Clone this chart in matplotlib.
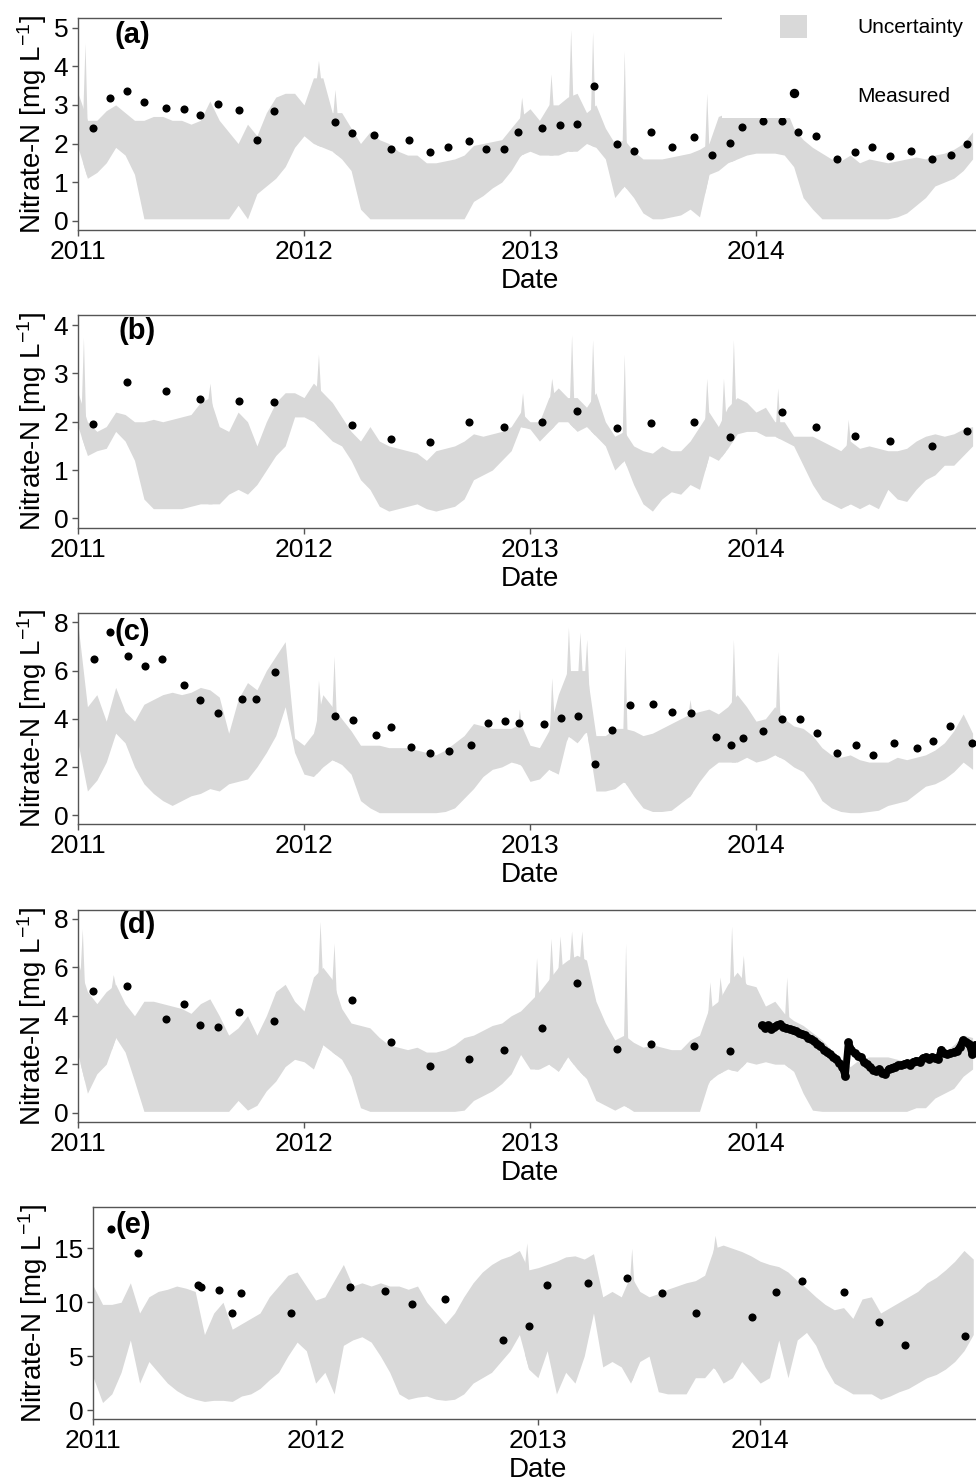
import numpy as np
import matplotlib
matplotlib.use('Agg')
import matplotlib.pyplot as plt
from matplotlib.patches import Patch, Rectangle
from matplotlib.lines import Line2D

plt.rcParams['font.family'] = ['Liberation Sans', 'DejaVu Sans']
plt.rcParams['mathtext.default'] = 'regular'

BAND = '#d9d9d9'
AXC = '#555555'
FS_TICK = 19
FS_LAB = 20

# ═══════════════════════════════════════
#  Data (decimal years)
# ═══════════════════════════════════════
# uncertainty band: semi-monthly envelope
band_t = 2011 + np.arange(96) / 24.0

# ---- (a)
lo_a = [1.9, 1.1, 1.25, 1.5, 1.9, 1.7, 1.2, 0.05, 0.05, 0.05,
        0.05, 0.05, 0.05, 0.05, 0.05, 0.05, 0.05, 0.4, 0.05, 0.7,
        0.9, 1.1, 1.4, 1.9, 2.2, 2.0, 1.9, 1.8, 1.6, 1.3,
        0.3, 0.05, 0.05, 0.05, 0.05, 0.05, 0.05, 0.05, 0.05, 0.05,
        0.05, 0.05, 0.5, 0.65, 0.85, 1.0, 1.3, 1.7, 1.8, 1.7,
        1.7, 1.7, 1.8, 1.8, 2.0, 1.9, 1.6, 0.6, 0.9, 0.6,
        0.2, 0.05, 0.05, 0.1, 0.15, 0.3, 0.1, 1.2, 1.3, 1.5,
        1.6, 1.7, 1.75, 1.75, 1.75, 1.7, 1.4, 0.6, 0.3, 0.05,
        0.05, 0.05, 0.05, 0.05, 0.05, 0.05, 0.05, 0.1, 0.2, 0.4,
        0.6, 0.9, 1.0, 1.1, 1.3, 1.6]
hi_a = [3.3, 2.6, 2.6, 2.85, 3.0, 2.8, 2.6, 2.6, 2.7, 2.7,
        2.6, 2.6, 2.5, 2.6, 3.1, 2.6, 2.3, 2.0, 2.5, 2.2,
        2.8, 3.2, 3.3, 3.3, 3.0, 3.7, 3.7, 2.8, 2.8, 2.4,
        2.0, 2.3, 2.1, 2.0, 1.8, 1.7, 1.7, 1.5, 1.5, 1.55,
        1.6, 1.7, 1.95, 2.0, 2.05, 2.1, 2.4, 2.7, 2.9, 2.6,
        3.0, 3.0, 3.2, 3.3, 2.8, 3.0, 2.4, 2.0, 2.1, 1.8,
        1.6, 1.6, 1.6, 1.65, 1.7, 1.75, 1.85, 2.0, 2.7, 2.8,
        2.9, 3.0, 3.0, 3.0, 3.1, 3.0, 2.4, 2.1, 1.9, 1.75,
        1.6, 1.55, 1.7, 1.5, 1.6, 1.55, 1.5, 1.55, 1.6, 1.65,
        1.6, 1.7, 1.75, 1.85, 2.0, 2.3]
spk_a_t = [2011.031, 2012.064, 2012.137, 2012.963, 2013.093, 2013.180,
           2013.277, 2013.417, 2013.782, 2013.898]
spk_a_v = [4.6, 4.15, 3.4, 3.2, 3.8, 4.95, 4.9, 4.4, 3.3, 4.3]
meas_a_t = [2011.065, 2011.142, 2011.217, 2011.292, 2011.388, 2011.470,
            2011.541, 2011.621, 2011.712, 2011.793, 2011.867, 2012.137,
            2012.212, 2012.311, 2012.387, 2012.466, 2012.559, 2012.636,
            2012.730, 2012.807, 2012.885, 2012.946, 2013.055, 2013.131,
            2013.209, 2013.285, 2013.384, 2013.459, 2013.537, 2013.630,
            2013.727, 2013.807, 2013.885, 2013.940, 2014.033, 2014.114,
            2014.187, 2014.264, 2014.358, 2014.438, 2014.512,
            2014.594, 2014.684, 2014.779, 2014.862, 2014.934]
meas_a_v = [2.39, 3.19, 3.35, 3.08, 2.93, 2.90, 2.75, 3.01, 2.86, 2.09,
            2.84, 2.56, 2.26, 2.23, 1.85, 2.08, 1.78, 1.90, 2.06, 1.87,
            1.85, 2.30, 2.41, 2.48, 2.50, 3.48, 2.00, 1.80, 2.29, 1.92,
            2.17, 1.70, 2.02, 2.43, 2.59, 2.59, 2.29, 2.19, 1.59,
            1.79, 1.90, 1.68, 1.80, 1.59, 1.69, 1.99]

# ---- (b)
lo_b = [1.9, 1.3, 1.4, 1.45, 1.8, 1.6, 1.2, 0.4, 0.2, 0.2,
        0.2, 0.2, 0.25, 0.3, 0.3, 0.3, 0.5, 0.6, 0.5, 0.7,
        1.0, 1.3, 1.5, 2.1, 2.1, 2.0, 1.8, 1.6, 1.5, 1.2,
        0.8, 0.6, 0.25, 0.15, 0.2, 0.25, 0.3, 0.2, 0.15, 0.2,
        0.25, 0.4, 0.8, 0.9, 1.0, 1.2, 1.4, 1.9, 1.85, 1.6,
        1.8, 2.0, 2.0, 1.8, 1.9, 1.7, 1.5, 1.0, 1.2, 0.7,
        0.3, 0.15, 0.4, 0.55, 0.5, 0.7, 0.6, 1.3, 1.2, 1.45,
        1.75, 1.8, 1.8, 1.7, 1.7, 1.6, 1.5, 1.1, 0.7, 0.4,
        0.3, 0.2, 0.3, 0.2, 0.3, 0.2, 0.6, 0.4, 0.35, 0.6,
        0.8, 0.9, 1.1, 1.1, 1.3, 1.5]
hi_b = [2.6, 2.0, 1.8, 1.9, 2.2, 2.15, 2.0, 2.0, 2.05, 2.0,
        2.05, 2.1, 2.15, 2.4, 2.5, 1.9, 1.8, 2.2, 2.0, 1.5,
        2.0, 2.4, 2.6, 2.6, 2.5, 2.8, 2.6, 2.4, 2.1, 1.8,
        1.6, 1.9, 1.6, 1.5, 1.45, 1.4, 1.35, 1.2, 1.4, 1.45,
        1.5, 1.6, 1.75, 1.7, 1.75, 1.8, 1.9, 2.2, 2.0, 2.0,
        2.5, 2.7, 2.5, 2.5, 2.3, 2.6, 2.0, 1.7, 1.8, 1.5,
        1.4, 1.35, 1.5, 1.4, 1.4, 1.6, 1.9, 2.2, 1.9, 2.3,
        2.5, 2.4, 2.2, 2.3, 2.0, 2.0, 1.7, 1.7, 1.7, 1.6,
        1.5, 1.4, 1.6, 1.45, 1.5, 1.45, 1.4, 1.4, 1.45, 1.6,
        1.7, 1.75, 1.7, 1.75, 1.85, 1.9]
spk_b_t = [2011.024, 2011.584, 2012.064, 2012.967, 2013.096, 2013.184,
           2013.277, 2013.417, 2013.782, 2013.856, 2013.900, 2014.096,
           2014.408]
spk_b_v = [3.75, 2.8, 3.4, 2.6, 2.9, 3.8, 3.7, 3.4, 2.9, 2.9, 3.7, 2.7, 2.05]
meas_b_t = [2011.065, 2011.217, 2011.388, 2011.541, 2011.712, 2011.867,
            2012.212, 2012.387, 2012.559, 2012.730, 2012.885, 2013.055,
            2013.209, 2013.384, 2013.537, 2013.727, 2013.885, 2014.114,
            2014.264, 2014.438, 2014.594, 2014.779, 2014.934]
meas_b_v = [1.96, 2.83, 2.63, 2.48, 2.42, 2.40, 1.93, 1.65, 1.59, 1.99,
            1.89, 1.99, 2.23, 1.88, 1.97, 1.99, 1.68, 2.21, 1.90, 1.70,
            1.60, 1.50, 1.80]

# ---- (c)
lo_c = [3.0, 1.0, 1.45, 2.2, 3.4, 3.0, 2.0, 1.3, 0.9, 0.6,
        0.4, 0.6, 0.8, 0.9, 1.1, 1.0, 1.3, 1.4, 1.5, 2.0,
        2.6, 3.3, 4.5, 2.6, 1.7, 1.6, 2.0, 2.3, 2.1, 1.7,
        0.6, 0.3, 0.1, 0.1, 0.1, 0.1, 0.1, 0.1, 0.1, 0.15,
        0.3, 0.7, 1.1, 1.6, 1.9, 2.0, 2.2, 2.1, 1.4, 1.5,
        1.9, 1.7, 3.3, 3.0, 3.5, 1.0, 1.0, 1.1, 1.4, 0.8,
        0.3, 0.15, 0.15, 0.2, 0.5, 0.8, 1.4, 1.9, 2.2, 2.2,
        2.2, 2.4, 2.2, 2.3, 2.5, 2.3, 2.0, 1.8, 1.3, 0.6,
        0.3, 0.15, 0.1, 0.1, 0.15, 0.2, 0.4, 0.5, 0.6, 0.9,
        1.2, 1.3, 1.5, 1.8, 2.2, 1.9]
hi_c = [7.9, 4.5, 5.0, 3.9, 5.3, 4.3, 3.9, 4.6, 4.8, 5.0,
        5.1, 5.0, 5.1, 5.3, 5.2, 4.9, 3.4, 4.8, 5.5, 5.2,
        6.0, 6.6, 7.2, 3.2, 2.9, 3.4, 5.0, 4.5, 4.0, 3.5,
        2.9, 2.9, 2.9, 2.8, 2.8, 2.8, 2.7, 2.6, 2.5, 2.7,
        3.0, 3.3, 3.8, 3.7, 3.6, 3.6, 3.6, 3.8, 2.9, 2.8,
        3.5, 5.0, 6.0, 6.0, 6.0, 3.3, 3.3, 3.6, 3.6, 3.5,
        3.3, 3.4, 3.6, 3.8, 4.0, 4.2, 4.3, 4.4, 4.2, 4.5,
        5.0, 4.5, 3.9, 4.0, 4.5, 4.0, 3.7, 3.6, 3.3, 2.8,
        2.5, 2.4, 2.5, 2.3, 2.2, 2.2, 2.2, 2.4, 2.3, 2.4,
        2.5, 2.7, 3.0, 3.5, 4.2, 3.4]
spk_c_t = [2012.064, 2012.133, 2012.953, 2013.096, 2013.170, 2013.221,
           2013.251, 2013.420, 2013.708, 2013.900, 2014.096]
spk_c_v = [5.6, 6.6, 4.4, 5.7, 7.8, 7.6, 7.3, 7.0, 4.8, 7.3, 6.8]
meas_c_t = [2011.069, 2011.142, 2011.221, 2011.295, 2011.373, 2011.469,
            2011.541, 2011.621, 2011.724, 2011.789, 2011.872, 2012.137,
            2012.215, 2012.317, 2012.387, 2012.472, 2012.559, 2012.643,
            2012.739, 2012.816, 2012.891, 2012.950, 2013.062, 2013.137,
            2013.214, 2013.289, 2013.363, 2013.444, 2013.543, 2013.630,
            2013.714, 2013.825, 2013.889, 2013.944, 2014.033, 2014.115,
            2014.195, 2014.268, 2014.360, 2014.441, 2014.516, 2014.611,
            2014.711, 2014.785, 2014.860, 2014.954]
meas_c_v = [6.46, 7.60, 6.60, 6.17, 6.46, 5.40, 4.78, 4.24, 4.84, 4.80,
            5.92, 4.11, 3.94, 3.32, 3.65, 2.84, 2.59, 2.66, 2.93, 3.82,
            3.90, 3.82, 3.78, 4.04, 4.12, 2.12, 3.53, 4.57, 4.61, 4.30,
            4.22, 3.24, 2.89, 3.21, 3.49, 3.99, 3.99, 3.39, 2.59, 2.89,
            2.49, 2.99, 2.80, 3.07, 3.70, 3.00]

# ---- (d)
lo_d = [2.4, 0.8, 1.6, 2.0, 3.1, 2.5, 1.3, 0.05, 0.05, 0.05,
        0.05, 0.05, 0.05, 0.05, 0.05, 0.05, 0.05, 0.5, 0.1, 0.3,
        0.9, 1.3, 1.9, 2.2, 2.1, 1.8, 2.8, 2.5, 2.2, 1.5,
        0.2, 0.05, 0.05, 0.05, 0.05, 0.05, 0.05, 0.05, 0.05, 0.05,
        0.05, 0.1, 0.5, 0.7, 0.9, 1.2, 1.6, 2.4, 1.8, 1.8,
        2.0, 1.7, 2.3, 1.8, 1.4, 0.5, 0.3, 0.1, 0.3, 0.05,
        0.05, 0.05, 0.05, 0.05, 0.05, 0.05, 0.05, 1.3, 1.6, 1.8,
        1.7, 2.1, 2.0, 2.1, 2.0, 2.0, 1.7, 0.8, 0.1, 0.05,
        0.05, 0.05, 0.05, 0.05, 0.05, 0.05, 0.05, 0.05, 0.05, 0.2,
        0.2, 0.6, 0.8, 1.0, 1.5, 1.8]
hi_d = [6.2, 5.0, 4.5, 5.0, 5.3, 4.5, 4.0, 4.6, 4.6, 4.5,
        4.4, 4.3, 4.1, 4.5, 4.7, 4.0, 3.2, 3.5, 4.0, 3.2,
        4.0, 5.0, 5.3, 4.6, 4.2, 5.6, 6.0, 5.5, 4.3, 3.7,
        3.6, 3.5, 3.1, 2.8, 2.7, 2.6, 2.7, 2.5, 2.5, 2.6,
        2.8, 3.1, 3.2, 3.4, 3.6, 3.7, 4.0, 4.2, 4.6, 5.0,
        5.5, 6.0, 6.3, 6.5, 6.3, 4.6, 3.7, 3.0, 3.2, 2.9,
        2.7, 2.8, 2.7, 2.6, 2.6, 3.0, 3.2, 4.3, 4.6, 5.3,
        5.8, 5.3, 5.2, 4.4, 4.6, 4.1, 3.8, 3.6, 3.3, 3.0,
        2.6, 2.2, 1.9, 2.2, 2.3, 2.3, 2.3, 2.2, 2.1, 2.1,
        2.2, 2.3, 2.5, 2.8, 3.2, 3.1]
spk_d_t = [2011.019, 2011.156, 2012.071, 2012.133, 2013.029, 2013.093,
           2013.133, 2013.184, 2013.229, 2013.423, 2013.796, 2013.841,
           2013.892, 2013.944, 2014.136]
spk_d_v = [7.6, 5.7, 7.9, 7.0, 6.4, 7.2, 7.3, 7.5, 7.5, 7.0, 5.4, 5.6,
           7.7, 6.5, 5.6]
meas_d_t = [2011.065, 2011.217, 2011.388, 2011.470, 2011.541, 2011.621,
            2011.712, 2011.867, 2012.212, 2012.387, 2012.559, 2012.730,
            2012.885, 2013.055, 2013.209, 2013.384, 2013.537, 2013.727,
            2013.885]
meas_d_v = [5.03, 5.21, 3.88, 4.47, 3.61, 3.53, 4.17, 3.77, 4.65, 2.90,
            1.94, 2.23, 2.59, 3.49, 5.35, 2.62, 2.83, 2.77, 2.55]
# high-frequency sensor record in 2014 (every 5 days)
sens_d_t = 2014.025 + np.arange(70) * 5 / 365.0
sens_d_v = [3.6, 3.5, 3.6, 3.45, 3.55, 3.6, 3.65, 3.55, 3.5, 3.45,
            3.4, 3.35, 3.3, 3.25, 3.2, 3.1, 3.05, 2.95, 2.85, 2.75,
            2.6, 2.5, 2.4, 2.3, 2.2, 2.05, 1.9, 1.5, 2.9, 2.6,
            2.45, 2.35, 2.3, 2.1, 2.0, 1.9, 1.75, 1.7, 1.8, 1.65,
            1.6, 1.8, 1.85, 1.9, 1.95, 1.95, 2.0, 2.05, 1.95, 2.1,
            2.15, 2.1, 2.25, 2.3, 2.2, 2.3, 2.25, 2.2, 2.6, 2.45,
            2.4, 2.45, 2.5, 2.55, 2.7, 3.0, 2.9, 2.85, 2.4, 2.8]

# ---- (e)
lo_e = [3.0, 0.7, 1.5, 3.5, 6.5, 2.5, 4.5, 3.5, 2.5, 1.8,
        1.3, 1.0, 0.8, 0.9, 0.9, 0.8, 1.3, 1.5, 2.0, 2.8,
        3.5, 5.0, 6.3, 5.5, 2.5, 3.5, 1.5, 6.0, 6.5, 6.8,
        6.3, 5.0, 3.5, 1.5, 1.0, 1.2, 1.3, 1.0, 0.9, 1.0,
        1.5, 2.5, 3.0, 3.5, 4.5, 5.5, 7.0, 3.8, 3.0, 5.5,
        1.5, 3.5, 2.5, 5.0, 9.0, 4.0, 4.5, 4.0, 2.5, 4.5,
        5.0, 1.7, 1.5, 1.5, 1.5, 3.0, 3.0, 4.0, 2.5, 3.0,
        4.5, 3.5, 2.5, 3.0, 6.5, 3.0, 6.5, 7.2, 6.0, 4.0,
        2.5, 2.0, 1.5, 1.5, 1.5, 1.0, 1.3, 1.7, 2.0, 2.5,
        3.0, 3.3, 3.8, 4.5, 5.5, 7.0]
hi_e = [11.5, 9.8, 9.8, 10.0, 11.8, 9.0, 10.5, 11.0, 11.2, 11.5,
        11.3, 11.0, 7.0, 9.0, 10.0, 7.5, 8.0, 8.5, 9.0, 10.5,
        11.5, 12.5, 12.8, 11.5, 10.2, 10.5, 12.0, 13.5, 11.5, 11.8,
        11.5, 11.8, 11.5, 11.5, 11.2, 11.5, 10.0, 9.0, 8.0, 9.0,
        10.5, 11.8, 12.8, 13.5, 14.0, 14.3, 14.8, 13.0, 13.2, 13.5,
        13.8, 14.2, 14.3, 14.0, 14.5, 10.5, 11.0, 10.5, 12.5, 11.0,
        10.5, 10.8, 11.2, 11.5, 11.8, 12.0, 12.5, 15.0, 15.3, 15.0,
        14.7, 14.3, 13.8, 13.5, 13.3, 12.8, 12.0, 11.3, 10.5, 9.8,
        9.3, 9.5, 8.5, 10.3, 10.5, 9.0, 9.5, 10.0, 10.5, 11.0,
        11.8, 12.3, 13.0, 13.8, 14.8, 14.0]
spk_e_t = [2012.950, 2013.422, 2013.797]
spk_e_v = [15.5, 15.0, 16.2]
meas_e_t = [2011.081, 2011.200, 2011.471, 2011.486, 2011.564, 2011.623,
            2011.663, 2011.889, 2012.155, 2012.314, 2012.432, 2012.582,
            2012.844, 2012.961, 2013.041, 2013.225, 2013.399, 2013.557,
            2013.711, 2013.962, 2014.070, 2014.189, 2014.377, 2014.534,
            2014.653, 2014.920]
meas_e_v = [16.80, 14.57, 11.63, 11.38, 11.17, 9.03, 10.89, 9.03, 11.38,
            11.07, 9.87, 10.27, 6.46, 7.79, 11.57, 11.75, 12.25, 10.89,
            9.00, 8.60, 10.95, 11.97, 10.98, 8.17, 6.00, 6.90]

years = [2011, 2012, 2013, 2014]

# ═══════════════════════════════════════
#  Layout (figure pixels: left, top, right, bottom)
# ═══════════════════════════════════════
W, H = 976, 1484
fig = plt.figure(figsize=(W / 100, H / 100), dpi=100)


def add_ax(l, t, r, b):
    return fig.add_axes([l / W, 1 - b / H, (r - l) / W, (b - t) / H])


def draw_panel(ax, lo, hi, spk_t, spk_v, mt, mv, ylim, yticks, tag, tag_xy):
    lo = np.asarray(lo)
    hi = np.asarray(hi)
    ax.fill_between(band_t, lo, hi, color=BAND, lw=0, zorder=1)
    w = 0.009
    for t, v in zip(spk_t, spk_v):
        xs = np.array([t - w, t, t + w])
        bot = np.interp(xs, band_t, lo)
        top = np.interp(xs, band_t, hi)
        top[1] = v
        ax.fill_between(xs, bot, top, color=BAND, lw=0, zorder=1)
    ax.scatter(mt, mv, s=34, color='black', linewidths=0, zorder=3)

    ax.set_xlim(2011, 2015)
    ax.set_ylim(*ylim)
    ax.set_xticks(years)
    ax.set_xticklabels([str(y) for y in years])
    ax.set_yticks(yticks)
    for s in ax.spines.values():
        s.set_color(AXC)
        s.set_linewidth(1.0)
    ax.tick_params(direction='out', length=4, width=1, color=AXC,
                   labelsize=FS_TICK, labelcolor='black', pad=3)
    ax.set_xlabel('Date', fontsize=FS_LAB, labelpad=3)
    ax.set_ylabel(r'Nitrate-N [mg L$^{-1}$]', fontsize=FS_LAB, labelpad=3)
    ax.text(tag_xy[0], tag_xy[1], tag, fontsize=21, fontweight='bold',
            ha='left', va='center', zorder=4)


ax_a = add_ax(78, 18, 982, 230)
draw_panel(ax_a, lo_a, hi_a, spk_a_t, spk_a_v, meas_a_t, meas_a_v,
           (-0.24, 5.25), [0, 1, 2, 3, 4, 5], '(a)', (2011.163, 4.81))

ax_b = add_ax(78, 315, 982, 528)
draw_panel(ax_b, lo_b, hi_b, spk_b_t, spk_b_v, meas_b_t, meas_b_v,
           (-0.2, 4.21), [0, 1, 2, 3, 4], '(b)', (2011.177, 3.88))

ax_c = add_ax(78, 613, 982, 824)
draw_panel(ax_c, lo_c, hi_c, spk_c_t, spk_c_v, meas_c_t, meas_c_v,
           (-0.37, 8.39), [0, 2, 4, 6, 8], '(c)', (2011.163, 7.62))

ax_d = add_ax(78, 910, 982, 1122)
draw_panel(ax_d, lo_d, hi_d, spk_d_t, spk_d_v, meas_d_t, meas_d_v,
           (-0.39, 8.37), [0, 2, 4, 6, 8], '(d)', (2011.177, 7.75))
# dense sensor record: overlapping dots form a thick trace
ax_d.plot(sens_d_t, sens_d_v, color='black', lw=5, solid_capstyle='round',
          solid_joinstyle='round', zorder=3)
ax_d.scatter(sens_d_t, sens_d_v, s=40, color='black', linewidths=0, zorder=3)

ax_e = add_ax(93.3, 1207, 982.5, 1419)
draw_panel(ax_e, lo_e, hi_e, spk_e_t, spk_e_v, meas_e_t, meas_e_v,
           (-0.83, 18.83), [0, 5, 10, 15], '(e)', (2011.098, 17.2))

# legend box, sitting over the top right of panel (a)
fig.add_artist(Rectangle((722 / W, 1 - 118 / H), 0.3, 0.2,
                         transform=fig.transFigure, facecolor='white',
                         edgecolor='none', zorder=2))
handles = [Patch(facecolor=BAND, edgecolor='none'),
           Line2D([], [], marker='o', color='black', linestyle='none',
                  markersize=5.8)]
fig.legend(handles, ['Uncertainty', 'Measured'], loc='upper left',
           bbox_to_anchor=(780 / W, 1 - 15 / H), bbox_transform=fig.transFigure,
           frameon=False, borderpad=0, borderaxespad=0, fontsize=15,
           handlelength=1.3, handleheight=1.3, handletextpad=2.4,
           labelspacing=2.2)

plt.savefig('out.png', dpi=100)
